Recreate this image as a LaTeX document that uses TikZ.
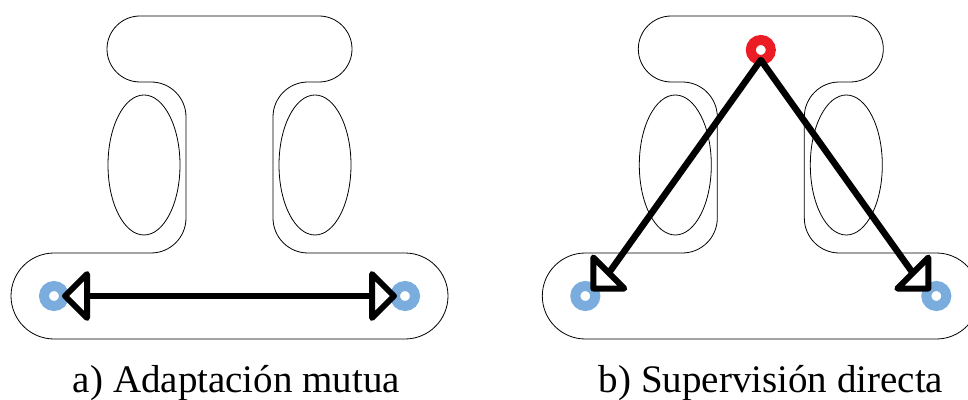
\documentclass[tikz,border=0pt]{standalone}
\usepackage{fontspec}
\setmainfont{Liberation Serif}
\definecolor{ringblue}{HTML}{7AADDE}
\definecolor{ringred}{HTML}{EC1C24}
\tikzset{
  outline/.style={draw=black, line width=0.8pt},
  ring/.style={circle, draw=#1, line width=10pt, minimum size=20pt, inner sep=0pt, fill=white},
  link/.style={line width=6.5pt, line cap=round, line join=round},
  head/.style={draw=black, fill=white, line width=6pt, line join=round},
  caption/.style={font=\fontsize{39}{42}\selectfont, anchor=base, inner sep=0pt},
  % I-shaped body with its two oval openings
  shell/.pic={
    \draw[outline] (140,383) -- (319,383) arc[start angle=90,end angle=-90,radius=33]
      -- (308,317) arc[start angle=90,end angle=180,radius=35]
      -- (273,181) arc[start angle=180,end angle=270,radius=35]
      -- (405,146) arc[start angle=90,end angle=-90,radius=43]
      -- (54,60) arc[start angle=270,end angle=90,radius=43]
      -- (151,146) arc[start angle=-90,end angle=0,radius=35]
      -- (186,282) arc[start angle=0,end angle=90,radius=35]
      -- (140,317) arc[start angle=270,end angle=90,radius=33] -- cycle;
    \draw[outline] (144,234) ellipse[x radius=36, y radius=70];
    \draw[outline] (315,234) ellipse[x radius=36, y radius=70];
  }
}
\begin{document}
\begin{tikzpicture}[x=1pt, y=1pt]
  \useasboundingbox (0,0) rectangle (968,399);
  \clip (0,0) rectangle (968,399);

  % panel a: mutual adjustment
  \pic at (0,0) {shell};
  \node[ring=ringblue] (aL) at (54,103) {};
  \node[ring=ringblue] (aR) at (405,103) {};
  \coordinate (aLtip)  at (65,103);
  \coordinate (aRtip)  at (394,103);
  \coordinate (aLbase) at (87,103);
  \coordinate (aRbase) at (372,103);
  \draw[link] (aLbase) -- (aRbase);
  \draw[head] (aLtip) -- (87,125) -- (87,81) -- cycle;
  \draw[head] (aRtip) -- (372,125) -- (372,81) -- cycle;
  \node[caption] (capA) at (236.5,7) {a) Adaptación mutua};

  % panel b: direct supervision
  \begin{scope}[xshift=531.3pt]
    \pic at (0,0) {shell};
    \node[ring=ringblue] (bL) at (54,103) {};
    \node[ring=ringblue] (bR) at (405,103) {};
    \node[ring=ringred] (bTop) at (229.5,349) {};
    \coordinate (apex) at (229.5,339);
    \coordinate (bLmid) at (77.5,126);
    \coordinate (bRmid) at (381.5,126);
    \draw[link] (bLmid) -- (apex) -- (bRmid);
    \draw[head] (62,110.5) -- (62,141.5) -- (93,110.5) -- cycle;
    \draw[head] (397,110.5) -- (397,141.5) -- (366,110.5) -- cycle;
    \node[caption] (capB) at (239.7,7) {b) Supervisión directa};
  \end{scope}
\end{tikzpicture}
\end{document}
